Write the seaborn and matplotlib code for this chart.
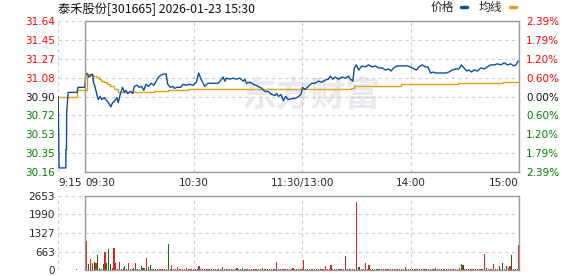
import numpy as np
import pandas as pd
import matplotlib
matplotlib.use("Agg")
import matplotlib.pyplot as plt
from matplotlib.lines import Line2D
import seaborn as sns

# ---------------- data ----------------
TITLE = "泰禾股份[301665] 2026-01-23 15:30"
PREV_CLOSE = 30.90

# minutes relative to 09:30 (pre-market negative, 13:00 continues at 120)
price_t = [-14.9, -14.4, -10.7, -10.6, -10.3, -10.2, -9.4, -4.4, -4.0, -0.2,
           0.4, 1.3, 2.2, 3.2, 4.1, 4.6, 5.4, 6.5, 7.2, 8.3, 9.3, 10.6, 12.4,
           14.3, 15.2, 16.1, 17.6, 18.3, 19.4, 20.7, 21.7, 22.6, 23.5, 25.0,
           26.3, 27.2, 28.7, 30.0, 31.3, 32.4, 33.7, 35.0, 36.5, 38.0, 39.3,
           40.6, 42.0, 43.5, 44.8, 45.7, 47.2, 48.5, 49.4, 50.9, 52.8, 54.1,
           55.9, 57.8, 59.6, 61.5, 62.8, 63.9, 65.2, 66.1, 68.0, 71.0, 73.7,
           75.5, 76.4, 77.3, 78.2, 80.0, 81.9, 83.7, 85.6, 87.4, 88.3, 89.3,
           91.1, 93.0, 95.7, 97.6, 99.4, 101.3, 103.1, 105.0, 106.0, 106.9,
           108.3, 109.6, 110.9, 112.4, 114.3, 116.1, 118.0, 119.4, 120.2,
           121.7, 123.5, 125.4, 127.2, 129.1, 131.0, 132.8, 134.6, 135.6,
           136.9, 138.3, 140.2, 142.0, 143.9, 145.7, 146.7, 148.1, 148.9,
           150.0, 151.3, 153.1, 155.0, 156.8, 158.7, 160.5, 162.4, 164.3,
           166.1, 168.0, 169.3, 170.7, 172.6, 175.4, 178.1, 180.0, 181.9,
           183.3, 184.6, 186.5, 188.3, 189.6, 191.1, 192.6, 193.9, 196.7,
           199.4, 201.3, 203.1, 205.0, 206.8, 208.1, 209.6, 211.1, 212.4,
           213.7, 215.2, 217.0, 218.9, 220.7, 222.6, 224.4, 226.3, 228.1,
           230.0, 231.8, 233.7, 235.5, 237.0, 238.3, 239.6]
price_v = [30.90, 30.20, 30.20, 30.38, 30.38, 30.74, 30.94, 30.94, 30.99, 30.99,
           31.13, 31.12, 31.09, 31.11, 31.12, 31.04, 31.00, 30.92, 30.87, 30.90,
           30.87, 30.89, 30.85, 30.80, 30.84, 30.85, 30.89, 30.84, 30.92, 30.99,
           30.94, 30.96, 30.93, 30.95, 30.93, 31.00, 31.01, 30.99, 31.00, 30.96,
           31.02, 31.00, 31.03, 31.01, 31.05, 31.09, 31.11, 31.12, 31.12, 31.02,
           30.99, 31.00, 30.98, 30.99, 30.99, 31.02, 31.01, 31.02, 31.01, 31.04,
           31.13, 31.08, 31.03, 31.00, 31.03, 31.03, 31.03, 31.07, 31.09, 31.05,
           31.08, 31.07, 31.08, 31.07, 31.08, 31.05, 31.07, 31.03, 31.04, 31.02,
           31.00, 30.98, 30.95, 30.95, 30.92, 30.91, 30.93, 30.90, 30.92, 30.86,
           30.90, 30.87, 30.88, 30.88, 30.90, 30.92, 30.99, 30.97, 31.00, 31.03,
           31.03, 31.05, 31.04, 31.06, 31.07, 31.10, 31.07, 31.09, 31.07, 31.09,
           31.08, 31.10, 31.07, 31.05, 31.18, 31.21, 31.16, 31.20, 31.19, 31.21,
           31.19, 31.20, 31.18, 31.18, 31.16, 31.17, 31.15, 31.18, 31.20, 31.20,
           31.20, 31.19, 31.17, 31.16, 31.19, 31.21, 31.19, 31.19, 31.13, 31.14,
           31.13, 31.13, 31.13, 31.14, 31.16, 31.17, 31.17, 31.21, 31.18, 31.15,
           31.16, 31.14, 31.16, 31.15, 31.18, 31.17, 31.19, 31.21, 31.21, 31.22,
           31.21, 31.23, 31.21, 31.22, 31.20, 31.21, 31.25]

avg_t = [-15, -4.4, 0.8, 2.5, 4.5, 6, 7.5, 9, 10.5, 12, 14, 16, 18, 38, 46,
         57, 88, 147, 149, 175, 206, 231, 240]
avg_v = [30.90, 30.96, 31.12, 31.11, 31.10, 31.09, 31.07, 31.05, 31.04, 31.02,
         31.00, 30.97, 30.94, 30.95, 30.96, 30.97, 30.97, 30.98, 31.00, 31.02,
         31.03, 31.04, 31.04]

vol_pre_t = [-5]
vol_pre_v = [40]
vol_pre_dir = "r"
# volume per minute, 09:30 .. 15:00 (241 bars)
vol_main = [
    0, 1040, 215, 394, 263, 290, 263, 538, 60, 50,
    215, 657, 240, 753, 215, 60, 789, 263, 36, 299,
    50, 60, 144, 36, 263, 40, 36, 60, 263, 36,
    50, 144, 60, 60, 442, 100, 180, 40, 36, 36,
    40, 36, 36, 30, 36, 40, 932, 36, 180, 40,
    36, 108, 36, 40, 36, 36, 60, 36, 36, 40,
    36, 36, 40, 144, 36, 36, 40, 36, 36, 36,
    36, 40, 36, 36, 36, 36, 120, 36, 36, 40,
    36, 36, 36, 36, 60, 36, 40, 60, 36, 36,
    36, 40, 36, 36, 36, 36, 36, 40, 60, 36,
    36, 36, 40, 36, 36, 36, 299, 36, 36, 40,
    36, 36, 40, 36, 36, 72, 36, 36, 40, 36,
    36, 358, 36, 36, 40, 36, 36, 36, 40, 36,
    36, 40, 36, 143, 36, 36, 190, 36, 40, 36,
    36, 36, 40, 36, 502, 36, 40, 36, 36, 40,
    2450, 120, 120, 36, 36, 263, 36, 180, 36, 40,
    36, 36, 40, 36, 36, 36, 40, 36, 36, 36,
    40, 36, 36, 36, 36, 40, 36, 108, 36, 36,
    36, 40, 36, 36, 36, 36, 40, 36, 36, 36,
    36, 36, 40, 36, 60, 36, 36, 40, 36, 36,
    36, 40, 36, 36, 36, 40, 36, 60, 215, 180,
    36, 40, 36, 36, 36, 36, 40, 36, 36, 36,
    40, 585, 84, 36, 40, 36, 227, 36, 40, 144,
    36, 263, 40, 144, 60, 144, 538, 36, 40, 36,
    896]
vol_main_dir = ("rrgrrgrggr" "grgggrrrgr" "rrgrrggrrg" "rggrrggrrg"
                "rrrgrrggrr" "rrgrrrrrrr" "rrrrrgrrrg" "rrgrrrrgrr"
                "rrrgrrggrr" "rgrrrgrrgg" "rgrrrrrgrr" "rrgrrrrgrr"
                "rrrgrrgrrg" "grrrrrrgrr" "rgrrrgrrgr" "rggrrrrrrg"
                "rrrrgrrrrr" "rrrrgrrrrr" "rrgrrrrrgr" "rrrrgrrgrr"
                "rrrrrrrrrg" "rrgrrrrrrr" "rrgrrrrgrr" "rgrrrrgrrr" "r")

price_ticks = [30.16, 30.35, 30.53, 30.72, 30.90, 31.08, 31.27, 31.45, 31.64]
price_tick_labels = ["30.16", "30.35", "30.53", "30.72", "30.90",
                     "31.08", "31.27", "31.45", "31.64"]
pct_labels = ["2.39%", "1.79%", "1.20%", "0.60%", "0.00%",
              "0.60%", "1.20%", "1.79%", "2.39%"]
vol_ticks = [0, 663, 1327, 1990, 2653]
time_ticks = [-15, 0, 60, 120, 180, 240]
time_labels = ["9:15", "09:30", "10:30", "11:30/13:00", "14:00", "15:00"]
legend_labels = ["价格", "均线"]

# ---------------- style ----------------
BLUE = "#0a4f9e"
ORANGE = "#e0a21c"
RED = "#ff0000"
GREEN = "#008000"
FRAME = "#999999"
GRID = "#cccccc"

sns.set_style("white")
plt.rcParams["font.family"] = ["DejaVu Sans"]
CJK = ["Noto Sans CJK SC", "DejaVu Sans"]

W, H = 578, 276
fig = plt.figure(figsize=(W / 100, H / 100), dpi=100)
ax = fig.add_axes([58 / W, 1 - 172 / H, 461 / W, 151 / H])
axv = fig.add_axes([58 / W, 1 - 270 / H, 461 / W, 74 / H])

# watermark
ax.text(125, 30.91, "东方财富", family=CJK, fontsize=25, fontweight="bold",
        color="#e9e9ed", ha="center", va="center", zorder=0.5)

# lines
sns.lineplot(x=price_t, y=price_v, ax=ax, color=BLUE, linewidth=1.0,
             estimator=None, sort=False, zorder=3)
sns.lineplot(x=avg_t, y=avg_v, ax=ax, color=ORANGE, linewidth=1.0,
             estimator=None, sort=False, drawstyle="steps-post", zorder=2)

# volume bars
vt = vol_pre_t + list(range(len(vol_main)))
vv = vol_pre_v + vol_main
vd = list(vol_pre_dir + vol_main_dir)
vdf = pd.DataFrame({"t": vt, "vol": vv, "dir": vd})
sns.barplot(data=vdf, x="t", y="vol", hue="dir", palette={"r": RED, "g": GREEN},
            native_scale=True, dodge=False, width=0.62, errorbar=None,
            legend=False, linewidth=0, antialiased=False, ax=axv, zorder=3)


def frame(a):
    a.set_xlim(-15, 240)
    for s in ["left"]:
        a.spines[s].set_visible(False)
    for s in ["top", "bottom"]:
        a.spines[s].set_bounds(0, 240)
    for s in ["top", "bottom", "right"]:
        a.spines[s].set_color(FRAME)
        a.spines[s].set_linewidth(1.0)
        a.spines[s].set_zorder(4)
    a.axvline(0, color=FRAME, linewidth=1.0, zorder=4)
    a.set_xticks(time_ticks)
    a.grid(True, linestyle=(0, (3, 3)), color=GRID, linewidth=0.8, zorder=0)
    a.set_axisbelow(True)
    a.tick_params(length=0, labelsize=7.5, pad=2)
    a.set_xlabel("")
    a.set_ylabel("")


frame(ax)
frame(axv)

ax.set_ylim(price_ticks[0], price_ticks[-1])
ax.set_yticks(price_ticks, price_tick_labels)
for lab, val in zip(ax.get_yticklabels(), price_ticks):
    if val > PREV_CLOSE:
        lab.set_color(RED)
    elif val < PREV_CLOSE:
        lab.set_color(GREEN)
    else:
        lab.set_color("#111111")
ax.set_xticklabels(time_labels)
ax.tick_params(axis="x", pad=4)
has = ["left", "left", "center", "center", "center", "right"]
for lab, ha in zip(ax.get_xticklabels(), has):
    lab.set_ha(ha)

ax2 = ax.twinx()
ax2.set_ylim(ax.get_ylim())
ax2.set_yticks(price_ticks, pct_labels)
for s in ax2.spines.values():
    s.set_visible(False)
ax2.tick_params(length=0, labelsize=7.5, pad=5)
for lab, val in zip(ax2.get_yticklabels(), price_ticks):
    if val > PREV_CLOSE:
        lab.set_color(RED)
    elif val < PREV_CLOSE:
        lab.set_color(GREEN)
    else:
        lab.set_color("#111111")
ax2.grid(False)

axv.set_ylim(vol_ticks[0], vol_ticks[-1])
axv.set_yticks(vol_ticks, [str(v) for v in vol_ticks])
axv.set_xticklabels([])

# title and legend
fig.text(58 / W, 1 - 9 / H, TITLE, family=CJK, fontsize=8.8,
         ha="left", va="center", color="#111111")
handles = [Line2D([], [], color=BLUE, linewidth=2.5),
           Line2D([], [], color=ORANGE, linewidth=2.5)]
fig.legend(handles, legend_labels, loc="upper right",
           bbox_to_anchor=(516 / W, 1 - 1 / H), ncol=2, markerfirst=False,
           handlelength=0.55, handletextpad=0.6, columnspacing=1.0,
           frameon=False, borderaxespad=0, borderpad=0,
           prop={"family": CJK, "size": 8.5})

fig.savefig("out.png", dpi=100, facecolor="white")
